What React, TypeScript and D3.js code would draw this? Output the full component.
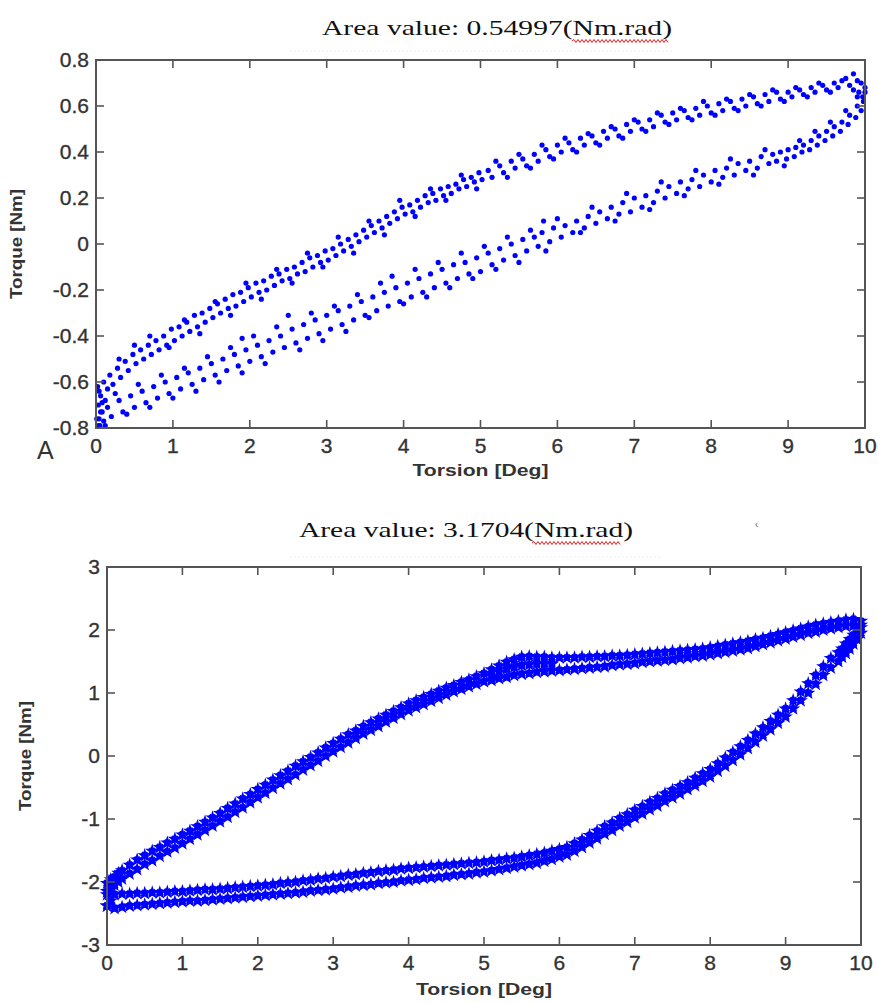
import React from 'react';
import * as d3 from 'd3';

// ---------- text / ticks ----------
const TOP_TITLE = 'Area value: 0.54997(Nm.rad)';
const BOT_TITLE = 'Area value: 3.1704(Nm.rad)';
const X_LABEL = 'Torsion [Deg]';
const Y_LABEL = 'Torque [Nm]';
const X_TICKS = [0, 1, 2, 3, 4, 5, 6, 7, 8, 9, 10];
const TOP_Y_TICKS = [0.8, 0.6, 0.4, 0.2, 0, -0.2, -0.4, -0.6, -0.8];
const BOT_Y_TICKS = [3, 2, 1, 0, -1, -2, -3];

// ---------- top loop (Area 0.54997) : [torsion, torque] ----------
const TOP_LOADING: [number, number][] = [
  [0.02,-0.62],[0.03,-0.70],[0.04,-0.76],[0.05,-0.79],[0.06,-0.66],[0.08,-0.73],[0.1,-0.60],[0.12,-0.68],[0.15,-0.63],[0.18,-0.57],
  [0.22,-0.61],[0.28,-0.54],[0.32,-0.58],[0.38,-0.51],[0.42,-0.55],[0.48,-0.48],[0.52,-0.52],[0.58,-0.46],[0.62,-0.50],[0.68,-0.44],
  [0.72,-0.48],[0.78,-0.42],[0.82,-0.46],[0.88,-0.40],[0.92,-0.44],[0.98,-0.37],[1.02,-0.42],[1.08,-0.36],[1.12,-0.40],[1.18,-0.34],
  [1.22,-0.38],[1.28,-0.31],[1.32,-0.36],[1.38,-0.30],[1.42,-0.34],[1.48,-0.28],[1.52,-0.32],[1.58,-0.26],[1.62,-0.30],[1.68,-0.24],
  [1.72,-0.28],[1.78,-0.22],[1.82,-0.27],[1.88,-0.21],[1.92,-0.25],[1.98,-0.19],[2.02,-0.23],[2.08,-0.17],[2.12,-0.21],[2.18,-0.16],
  [2.22,-0.20],[2.28,-0.14],[2.32,-0.18],[2.38,-0.13],[2.42,-0.16],[2.48,-0.11],[2.52,-0.15],[2.58,-0.10],[2.62,-0.13],[2.68,-0.08],
  [2.72,-0.12],[2.78,-0.06],[2.82,-0.10],[2.88,-0.05],[2.92,-0.08],[2.98,-0.03],[3.02,-0.07],[3.08,-0.02],[3.12,-0.05],[3.18,0.00],
  [3.22,-0.03],[3.28,0.02],[3.32,-0.01],[3.38,0.04],[3.42,0.01],[3.48,0.06],[3.52,0.03],[3.58,0.08],[3.62,0.05],[3.68,0.10],
  [3.72,0.07],[3.78,0.12],[3.82,0.09],[3.88,0.14],[3.92,0.11],[3.98,0.16],[4.02,0.13],[4.08,0.17],[4.12,0.14],[4.18,0.19],
  [4.22,0.16],[4.28,0.21],[4.32,0.18],[4.38,0.22],[4.42,0.19],[4.48,0.24],[4.52,0.21],[4.58,0.25],[4.62,0.22],[4.68,0.26],
  [4.72,0.24],[4.78,0.28],[4.82,0.25],[4.88,0.29],[4.92,0.27],[4.98,0.31],[5.02,0.28],[5.1,0.32],[5.15,0.29],[5.25,0.34],
  [5.3,0.31],[5.4,0.36],[5.45,0.33],[5.55,0.37],[5.6,0.34],[5.7,0.39],[5.75,0.36],[5.85,0.41],[5.9,0.38],[6.0,0.43],
  [6.05,0.40],[6.15,0.44],[6.2,0.41],[6.3,0.46],[6.35,0.43],[6.45,0.47],[6.5,0.44],[6.6,0.49],[6.65,0.46],[6.75,0.50],
  [6.8,0.47],[6.9,0.52],[6.95,0.49],[7.05,0.53],[7.1,0.50],[7.2,0.54],[7.25,0.51],[7.35,0.56],[7.4,0.53],[7.5,0.57],
  [7.55,0.54],[7.65,0.58],[7.7,0.55],[7.8,0.59],[7.85,0.56],[7.95,0.60],[8.0,0.57],[8.1,0.61],[8.15,0.58],[8.25,0.62],
  [8.3,0.59],[8.4,0.63],[8.45,0.60],[8.55,0.64],[8.6,0.61],[8.7,0.65],[8.75,0.62],[8.85,0.66],[8.9,0.63],[9.0,0.66],
  [9.05,0.64],[9.15,0.67],[9.2,0.65],[9.3,0.68],[9.35,0.66],[9.45,0.69],[9.5,0.67],[9.6,0.70],[9.65,0.68],[9.75,0.72],
  [9.8,0.69],[9.85,0.74],[9.9,0.71],[9.95,0.70],[10.0,0.68],
  [0.3,-0.50],[0.5,-0.44],[0.7,-0.40],[0.95,-0.45],[1.15,-0.33],[1.35,-0.39],[1.55,-0.25],[1.75,-0.31],[1.95,-0.17],[2.15,-0.24],
  [2.35,-0.11],[2.55,-0.17],[2.75,-0.04],[2.95,-0.10],[3.15,0.03],[3.35,-0.04],[3.55,0.10],[3.75,0.04],[3.95,0.19],[4.15,0.12],
  [4.35,0.24],[4.55,0.19],[4.75,0.30],[4.95,0.24],[5.2,0.36],[5.35,0.29],[5.5,0.39],[5.65,0.33],[5.8,0.43],[5.95,0.37],
  [6.1,0.46],[6.25,0.40],[6.4,0.48],[6.55,0.43],[6.7,0.51],[6.85,0.46],[7.0,0.54],[7.15,0.49],[7.3,0.57],[7.45,0.52],
  [7.6,0.59],[7.75,0.54],[7.9,0.62],[8.05,0.56],[8.2,0.63],[8.35,0.58],[8.5,0.65],[8.65,0.60],[8.8,0.67],[8.95,0.62],
  [9.1,0.68],[9.25,0.64],[9.4,0.70],[9.55,0.66],[9.7,0.71],[9.85,0.67],[9.92,0.66],[9.97,0.64]
];

const TOP_UNLOADING: [number, number][] = [
  [10.0,0.66],[9.98,0.62],[9.95,0.58],[9.9,0.60],[9.88,0.55],[9.8,0.56],[9.78,0.52],[9.7,0.53],[9.68,0.49],[9.6,0.51],
  [9.58,0.47],[9.5,0.49],[9.48,0.45],[9.4,0.47],[9.38,0.43],[9.3,0.45],[9.28,0.41],[9.2,0.43],[9.18,0.40],[9.1,0.42],
  [9.08,0.38],[9.0,0.41],[8.98,0.37],[8.9,0.40],[8.85,0.36],[8.8,0.39],[8.75,0.35],[8.65,0.38],[8.6,0.33],[8.5,0.36],
  [8.45,0.32],[8.35,0.35],[8.3,0.30],[8.2,0.33],[8.15,0.29],[8.05,0.32],[8.0,0.27],[7.9,0.30],[7.85,0.25],[7.75,0.28],
  [7.7,0.24],[7.6,0.27],[7.55,0.22],[7.45,0.25],[7.4,0.20],[7.3,0.23],[7.25,0.18],[7.15,0.21],[7.1,0.16],[7.0,0.20],
  [6.95,0.14],[6.85,0.18],[6.8,0.13],[6.7,0.16],[6.65,0.11],[6.55,0.14],[6.5,0.09],[6.4,0.12],[6.35,0.07],[6.25,0.10],
  [6.2,0.05],[6.1,0.08],[6.05,0.03],[5.95,0.07],[5.9,0.01],[5.8,0.05],[5.75,-0.01],[5.82,0.10],[5.7,0.03],[5.6,-0.03],
  [5.55,0.02],[5.45,-0.05],[5.4,0.00],[5.3,-0.07],[5.25,-0.02],[5.15,-0.09],[5.1,-0.04],[5.0,-0.12],[4.95,-0.06],[4.85,-0.13],
  [4.8,-0.08],[4.7,-0.15],[4.65,-0.09],[4.55,-0.17],[4.5,-0.11],[4.4,-0.19],[4.35,-0.13],[4.25,-0.21],[4.2,-0.15],[4.1,-0.23],
  [4.05,-0.17],[3.95,-0.25],[3.9,-0.19],[3.85,-0.14],[3.8,-0.27],[3.75,-0.21],[3.65,-0.29],[3.6,-0.23],[3.5,-0.31],[3.45,-0.25],
  [3.35,-0.33],[3.3,-0.27],[3.2,-0.35],[3.15,-0.29],[3.05,-0.37],[3.0,-0.31],[2.9,-0.39],[2.85,-0.33],[2.75,-0.41],[2.7,-0.35],
  [2.6,-0.43],[2.55,-0.37],[2.5,-0.31],[2.45,-0.45],[2.4,-0.40],[2.3,-0.47],[2.25,-0.42],[2.15,-0.49],[2.1,-0.44],[2.0,-0.51],
  [1.95,-0.46],[1.9,-0.41],[1.85,-0.53],[1.8,-0.48],[1.7,-0.55],[1.65,-0.50],[1.55,-0.57],[1.5,-0.52],[1.4,-0.59],[1.35,-0.54],
  [1.25,-0.61],[1.2,-0.56],[1.1,-0.63],[1.05,-0.58],[0.95,-0.65],[0.9,-0.60],[0.8,-0.67],[0.75,-0.62],[0.65,-0.69],[0.6,-0.64],
  [0.5,-0.71],[0.45,-0.66],[0.35,-0.73],[0.3,-0.68],[0.2,-0.75],[0.15,-0.71],[0.1,-0.77],[0.06,-0.73],[0.03,-0.79],[0.01,-0.76],
  [9.9,0.64],[9.75,0.58],[9.55,0.53],[9.35,0.49],[9.15,0.45],[8.95,0.34],[8.7,0.41],[8.55,0.30],[8.25,0.37],[8.1,0.26],
  [7.8,0.32],[7.65,0.21],[7.35,0.27],[7.2,0.15],[6.9,0.22],[6.75,0.10],[6.45,0.16],[6.3,0.05],[6.0,0.11],[5.85,-0.03],
  [5.65,0.06],[5.5,-0.08],[5.35,0.03],[5.2,-0.11],[5.05,-0.01],[4.9,-0.15],[4.75,-0.04],[4.6,-0.19],[4.45,-0.08],[4.3,-0.23],
  [4.15,-0.11],[4.0,-0.26],[3.7,-0.17],[3.55,-0.32],[3.4,-0.22],[3.25,-0.38],[3.1,-0.27],[2.95,-0.42],[2.8,-0.30],[2.65,-0.46],
  [2.35,-0.36],[2.2,-0.52],[2.05,-0.40],[1.9,-0.56],[1.75,-0.45],[1.6,-0.60],[1.45,-0.49],[1.3,-0.64],[1.15,-0.54],[1.0,-0.67],
  [0.85,-0.57],[0.7,-0.71],[0.55,-0.61],[0.4,-0.74],[0.25,-0.65],[0.12,-0.79],[0.08,-0.69],[0.04,-0.64]
];

// ---------- bottom loop (Area 3.1704) : [torsion, torque readings...] ----------
const BOT_LOADING: number[][] = [
  [0.0,-2.02,-2.20,-2.38],[0.05,-1.96,-2.12,-2.30],[0.1,-1.92,-2.05],[0.15,-1.86,-2.0],[0.2,-1.82,-1.95],
  [0.3,-1.73,-1.87],[0.4,-1.65,-1.80],[0.5,-1.58,-1.72],[0.6,-1.51,-1.66],[0.7,-1.45,-1.59],
  [0.8,-1.38,-1.52],[0.9,-1.32,-1.46],[1.0,-1.25,-1.39],[1.1,-1.19,-1.32],[1.2,-1.12,-1.25],
  [1.3,-1.05,-1.18],[1.4,-0.98,-1.11],[1.5,-0.91,-1.04],[1.6,-0.83,-0.97],[1.7,-0.76,-0.89],
  [1.8,-0.68,-0.82],[1.9,-0.61,-0.74],[2.0,-0.53,-0.66],[2.1,-0.46,-0.59],[2.2,-0.38,-0.51],
  [2.3,-0.31,-0.44],[2.4,-0.24,-0.37],[2.5,-0.16,-0.30],[2.6,-0.09,-0.22],[2.7,-0.02,-0.15],
  [2.8,0.05,-0.08],[2.9,0.13,0.00],[3.0,0.20,0.07],[3.1,0.27,0.14],[3.2,0.34,0.21],
  [3.3,0.40,0.28],[3.4,0.47,0.35],[3.5,0.53,0.41],[3.6,0.59,0.47],[3.7,0.65,0.54],
  [3.8,0.71,0.60],[3.9,0.77,0.66],[4.0,0.83,0.72],[4.1,0.88,0.77],[4.2,0.93,0.82],
  [4.3,0.98,0.87],[4.4,1.03,0.92],[4.5,1.08,0.97],[4.6,1.12,1.02],[4.7,1.17,1.06],
  [4.8,1.21,1.10],[4.9,1.26,1.14],[5.0,1.31,1.18],[5.1,1.37,1.27,1.20],[5.2,1.43,1.33,1.23],
  [5.3,1.49,1.38,1.25],[5.4,1.53,1.41,1.28],[5.5,1.57,1.44,1.30],[5.6,1.58,1.45,1.31],[5.7,1.57,1.46,1.33],
  [5.8,1.57,1.46,1.34],[5.9,1.56,1.46,1.35],[6.0,1.56,1.36],[6.1,1.56,1.37],[6.2,1.56,1.38],
  [6.3,1.57,1.39],[6.4,1.57,1.40],[6.5,1.58,1.41],[6.6,1.58,1.42],[6.7,1.59,1.44],
  [6.8,1.59,1.45],[6.9,1.60,1.46],[7.0,1.61,1.47],[7.1,1.62,1.49],[7.2,1.63,1.50],
  [7.3,1.64,1.51],[7.4,1.65,1.52],[7.5,1.66,1.53],[7.6,1.67,1.55],[7.7,1.68,1.56],
  [7.8,1.69,1.58],[7.9,1.70,1.59],[8.0,1.72,1.61],[8.1,1.74,1.63],[8.2,1.76,1.65],
  [8.3,1.78,1.67],[8.4,1.80,1.69],[8.5,1.82,1.71],[8.6,1.85,1.74],[8.7,1.87,1.77],
  [8.8,1.90,1.80],[8.9,1.93,1.83],[9.0,1.96,1.86],[9.1,1.99,1.89],[9.2,2.02,1.92],
  [9.3,2.05,1.95],[9.4,2.08,1.97],[9.5,2.10,2.00],[9.6,2.12,2.02],[9.7,2.14,2.04],
  [9.8,2.16,2.06],[9.9,2.17,2.07],[10.0,2.14,2.04]
];

const BOT_UNLOADING: number[][] = [
  [10.0,2.08,1.95],[9.95,2.00,1.85],[9.9,1.92,1.78],[9.85,1.85,1.70],[9.8,1.78,1.63],
  [9.75,1.70,1.57],[9.7,1.64,1.50],[9.6,1.55,1.40],[9.5,1.42,1.28],[9.4,1.28,1.14],
  [9.3,1.15,1.00],[9.2,1.02,0.88],[9.1,0.88,0.75],[9.0,0.75,0.62],[8.9,0.65,0.52],
  [8.8,0.55,0.42],[8.7,0.45,0.32],[8.6,0.35,0.22],[8.5,0.25,0.12],[8.4,0.15,0.02],
  [8.3,0.06,-0.07],[8.2,-0.03,-0.16],[8.1,-0.12,-0.24],[8.0,-0.21,-0.33],[7.9,-0.28,-0.40],
  [7.8,-0.35,-0.47],[7.7,-0.42,-0.53],[7.6,-0.48,-0.60],[7.5,-0.54,-0.66],[7.4,-0.60,-0.72],
  [7.3,-0.67,-0.79],[7.2,-0.73,-0.85],[7.1,-0.80,-0.92],[7.0,-0.86,-0.98],[6.9,-0.93,-1.05],
  [6.8,-0.99,-1.11],[6.7,-1.06,-1.18],[6.6,-1.12,-1.24],[6.5,-1.19,-1.31],[6.4,-1.26,-1.38],
  [6.3,-1.33,-1.45],[6.2,-1.39,-1.51],[6.1,-1.45,-1.57],[6.0,-1.48,-1.60],[5.9,-1.51,-1.64],
  [5.8,-1.54,-1.67],[5.7,-1.56,-1.70],[5.6,-1.58,-1.72],[5.5,-1.60,-1.74],[5.4,-1.62,-1.76],
  [5.3,-1.63,-1.78],[5.2,-1.65,-1.80],[5.1,-1.66,-1.82],[5.0,-1.68,-1.84],[4.9,-1.69,-1.85],
  [4.8,-1.70,-1.87],[4.7,-1.71,-1.88],[4.6,-1.72,-1.89],[4.5,-1.73,-1.91],[4.4,-1.74,-1.92],
  [4.3,-1.75,-1.93],[4.2,-1.76,-1.94],[4.1,-1.77,-1.96],[4.0,-1.78,-1.97],[3.9,-1.79,-1.98],
  [3.8,-1.81,-2.00],[3.7,-1.82,-2.01],[3.6,-1.83,-2.02],[3.5,-1.85,-2.04],[3.4,-1.86,-2.05],
  [3.3,-1.88,-2.06],[3.2,-1.89,-2.08],[3.1,-1.91,-2.09],[3.0,-1.92,-2.11],[2.9,-1.94,-2.12],
  [2.8,-1.95,-2.13],[2.7,-1.97,-2.14],[2.6,-1.98,-2.16],[2.5,-2.00,-2.17],[2.4,-2.01,-2.18],
  [2.3,-2.02,-2.19],[2.2,-2.04,-2.20],[2.1,-2.05,-2.21],[2.0,-2.06,-2.22],[1.9,-2.07,-2.23],
  [1.8,-2.08,-2.24],[1.7,-2.09,-2.25],[1.6,-2.10,-2.26],[1.5,-2.11,-2.27],[1.4,-2.12,-2.28],
  [1.3,-2.12,-2.29],[1.2,-2.13,-2.30],[1.1,-2.14,-2.30],[1.0,-2.15,-2.31],[0.9,-2.15,-2.32],
  [0.8,-2.16,-2.33],[0.7,-2.17,-2.34],[0.6,-2.17,-2.35],[0.5,-2.18,-2.36],[0.4,-2.18,-2.37],
  [0.3,-2.19,-2.38],[0.2,-2.19,-2.40],[0.1,-2.20,-2.42],[0.0,-2.15,-2.38]
];

const BLUE = '#0000ff';
const AXIS = '#555';
const TXT = '#333';
const SANS = '"Liberation Sans", Arial, sans-serif';
const SERIF = '"Liberation Serif", "Times New Roman", serif';

function wavy(x0: number, x1: number, y: number) {
  let d = `M${x0},${y}`;
  let up = true;
  for (let x = x0 + 2; x <= x1; x += 2) {
    d += ` L${x},${up ? y - 1.5 : y + 1.5}`;
    up = !up;
  }
  return d;
}

type PanelProps = {
  x0: number; x1: number; yTop: number; yBot: number;
  yDomain: [number, number]; yTicks: number[];
  points: [number, number][];
  symbol: 'dot' | 'star';
  xLabelY: number; yLabelX: number;
};

function Panel(p: PanelProps) {
  const x = d3.scaleLinear().domain([0, 10]).range([p.x0, p.x1]);
  const y = d3.scaleLinear().domain(p.yDomain).range([p.yBot, p.yTop]);
  const tick = 8;
  const fmt = (v: number) => String(+v.toFixed(1));
  const star = d3.symbol().type(d3.symbolStar).size(64)() as string;
  const cross = d3.symbol().type(d3.symbolCross).size(40)() as string;
  const xc = (p.x0 + p.x1) / 2;
  const yc = (p.yTop + p.yBot) / 2;
  return (
    <g>
      <g fill={BLUE}>
        {p.points.map((d, i) =>
          p.symbol === 'dot' ? (
            <circle key={i} cx={x(d[0])} cy={y(d[1])} r={2.6} />
          ) : (
            <g key={i} transform={`translate(${x(d[0])},${y(d[1])})`}>
              <path d={star} />
              <path d={cross} transform="rotate(45)" />
              <circle r={3.2} />
            </g>
          )
        )}
      </g>
      <rect x={p.x0} y={p.yTop} width={p.x1 - p.x0} height={p.yBot - p.yTop} fill="none" stroke={AXIS} strokeWidth={2} />
      <g stroke={AXIS} strokeWidth={1.6}>
        {X_TICKS.map((t) => (
          <g key={'xt' + t}>
            <line x1={x(t)} x2={x(t)} y1={p.yBot} y2={p.yBot - tick} />
            <line x1={x(t)} x2={x(t)} y1={p.yTop} y2={p.yTop + tick} />
          </g>
        ))}
        {p.yTicks.map((t) => (
          <g key={'yt' + t}>
            <line x1={p.x0} x2={p.x0 + tick} y1={y(t)} y2={y(t)} />
            <line x1={p.x1} x2={p.x1 - tick} y1={y(t)} y2={y(t)} />
          </g>
        ))}
      </g>
      <g fill={TXT} stroke={TXT} strokeWidth={0.35} fontFamily={SANS} fontSize={21}>
        {X_TICKS.map((t) => (
          <text key={'xl' + t} x={x(t)} y={p.yBot + 25} textAnchor="middle">{t}</text>
        ))}
        {p.yTicks.map((t) => (
          <text key={'yl' + t} x={p.x0 - 7} y={y(t) + 7} textAnchor="end">{fmt(t)}</text>
        ))}
      </g>
      <text x={xc} y={p.xLabelY} textAnchor="middle" fill={TXT} fontFamily={SANS} fontWeight="bold" fontSize={17}
        textLength={136} lengthAdjust="spacingAndGlyphs">{X_LABEL}</text>
      <text transform={`translate(${p.yLabelX},${yc}) rotate(-90)`} textAnchor="middle" fill={TXT} fontFamily={SANS}
        fontWeight="bold" fontSize={16} textLength={110} lengthAdjust="spacingAndGlyphs">{Y_LABEL}</text>
    </g>
  );
}

function expand(rows: number[][]): [number, number][] {
  const out: [number, number][] = [];
  rows.forEach((r) => {
    for (let k = 1; k < r.length; k++) out.push([r[0], r[k]]);
  });
  return out;
}

export default function App() {
  const bottomPoints = expand(BOT_LOADING).concat(expand(BOT_UNLOADING));
  return (
    <svg width={878} height={1003} style={{ position: 'absolute', left: 0, top: 0, background: '#fff' }}>
      <rect x={0} y={0} width={878} height={1003} fill="#fff" />
      {/* top title */}
      <text x={497} y={35} textAnchor="middle" fontFamily={SERIF} fontSize={21} fill="#111"
        textLength={350} lengthAdjust="spacingAndGlyphs">{TOP_TITLE}</text>
      <path d={wavy(572, 668, 41)} fill="none" stroke="#e02020" strokeWidth={1} />
      <line x1={290} x2={672} y1={51} y2={51} stroke="#ddd" strokeWidth={1} strokeDasharray="2,2" opacity={0.5} />
      <Panel x0={96} x1={865} yTop={60} yBot={428} yDomain={[-0.8, 0.8]} yTicks={TOP_Y_TICKS}
        points={TOP_LOADING.concat(TOP_UNLOADING)} symbol="dot" xLabelY={476} yLabelX={22} />
      <text x={37} y={459} fontFamily={SANS} fontSize={25} fill={TXT}>A</text>

      {/* bottom title */}
      <text x={466} y={537} textAnchor="middle" fontFamily={SERIF} fontSize={21} fill="#111"
        textLength={334} lengthAdjust="spacingAndGlyphs">{BOT_TITLE}</text>
      <path d={wavy(532, 620, 543)} fill="none" stroke="#e02020" strokeWidth={1} />
      <text x={755} y={528} fontFamily={SANS} fontSize={10} fill="#666">‹</text>
      <line x1={290} x2={662} y1={557} y2={557} stroke="#ddd" strokeWidth={1} strokeDasharray="2,2" opacity={0.5} />
      <Panel x0={107} x1={861} yTop={567} yBot={945} yDomain={[-3, 3]} yTicks={BOT_Y_TICKS}
        points={bottomPoints} symbol="star" xLabelY={995} yLabelX={31} />
    </svg>
  );
}
